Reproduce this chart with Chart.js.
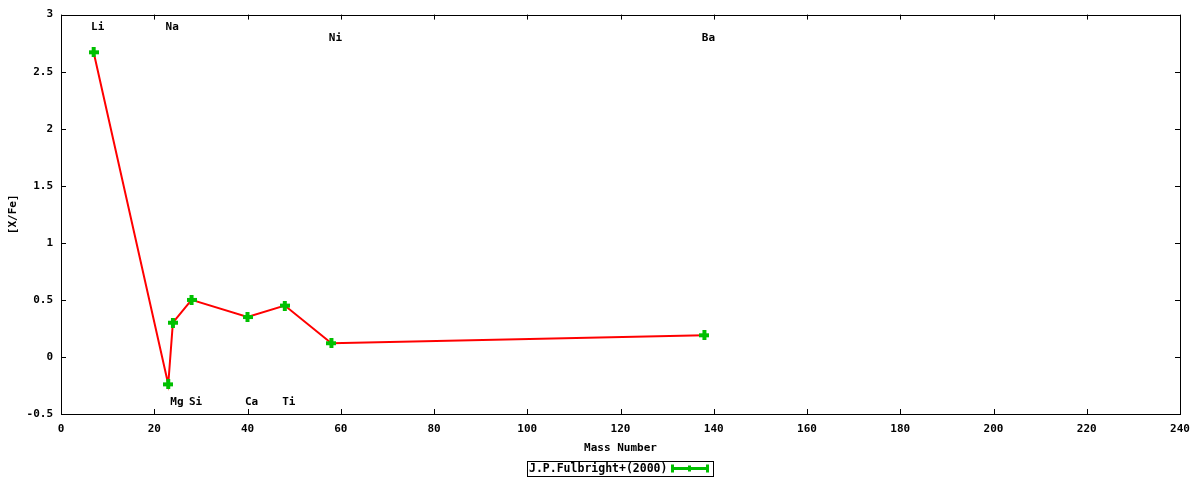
<!DOCTYPE html>
<html>
<head>
<meta charset="utf-8">
<script src="https://cdn.jsdelivr.net/npm/chart.js@4.4.0/dist/chart.umd.min.js"></script>
<style>
  html, body { margin: 0; padding: 0; background: #fff; }
  #wrap { width: 1200px; height: 480px; }
</style>
</head>
<body>
<div id="wrap"><canvas id="abundChart"></canvas></div>
<script>
// element labels and mass numbers
const elements = ['Li', 'Na', 'Mg', 'Si', 'Ca', 'Ti', 'Ni', 'Ba'];
const massNumber = [7, 23, 24, 28, 40, 48, 58, 138];
const xFe = [2.67, -0.24, 0.30, 0.50, 0.35, 0.45, 0.12, 0.19];
// where gnuplot put the element labels (in data units)
const labelY = [2.89, 2.89, -0.40, -0.40, -0.40, -0.40, 2.79, 2.79];
const xTicks = [0, 20, 40, 60, 80, 100, 120, 140, 160, 180, 200, 220, 240];
const yTicks = [-0.5, 0, 0.5, 1, 1.5, 2, 2.5, 3];
const seriesName = 'J.P.Fulbright+(2000)';

const FONT = '"DejaVu Sans Mono", monospace';
const GREEN = '#00c000';

// thick plus marker like gnuplot's
const marker = document.createElement('canvas');
marker.width = 10; marker.height = 10;
(function () {
  const c = marker.getContext('2d');
  c.fillStyle = GREEN;
  c.fillRect(3, 0, 4, 10);
  c.fillRect(0, 3, 10, 4);
})();

// frame with inward ticks on all four sides, element labels, legend box
const gnuplotBits = {
  id: 'gnuplotBits',
  afterDraw(chart) {
    const { ctx, chartArea: a, scales: { x, y } } = chart;
    ctx.save();
    ctx.strokeStyle = '#000';
    ctx.lineWidth = 1;
    ctx.beginPath();
    xTicks.forEach(v => {
      const px = Math.round(x.getPixelForValue(v)) + 0.5;
      ctx.moveTo(px, a.bottom); ctx.lineTo(px, a.bottom - 5);
      ctx.moveTo(px, a.top); ctx.lineTo(px, a.top + 5);
    });
    yTicks.forEach(v => {
      const py = Math.round(y.getPixelForValue(v)) + 0.5;
      ctx.moveTo(a.left, py); ctx.lineTo(a.left + 5, py);
      ctx.moveTo(a.right, py); ctx.lineTo(a.right - 5, py);
    });
    ctx.stroke();
    ctx.strokeRect(Math.round(a.left) + 0.5, Math.round(a.top) + 0.5,
      Math.round(a.right - a.left), Math.round(a.bottom - a.top));

    // element labels
    ctx.fillStyle = '#000';
    ctx.font = 'bold 11px ' + FONT;
    ctx.textAlign = 'center';
    ctx.textBaseline = 'middle';
    elements.forEach((el, i) => {
      ctx.fillText(el, x.getPixelForValue(massNumber[i]) + 4, y.getPixelForValue(labelY[i]));
    });

    // legend
    const bx = 527, by = 461, bw = 186, bh = 15;
    ctx.strokeRect(bx + 0.5, by + 0.5, bw, bh);
    ctx.textAlign = 'left';
    ctx.font = 'bold 11.5px ' + FONT;
    ctx.fillText(seriesName, bx + 2, by + 8);
    const sy = by + 7.5;
    ctx.strokeStyle = GREEN;
    ctx.lineWidth = 3;
    ctx.beginPath();
    ctx.moveTo(672, sy); ctx.lineTo(708, sy);
    ctx.stroke();
    ctx.fillStyle = GREEN;
    ctx.fillRect(671, sy - 4, 3, 8);
    ctx.fillRect(706, sy - 4, 3, 8);
    ctx.fillRect(688, sy - 3, 3, 6);
    ctx.restore();
  }
};

new Chart(document.getElementById('abundChart'), {
  type: 'line',
  data: {
    datasets: [{
      label: seriesName,
      data: massNumber.map((m, i) => ({ x: m, y: xFe[i] })),
      borderColor: '#ff0000',
      borderWidth: 2,
      tension: 0,
      fill: false,
      pointStyle: marker,
      pointRadius: 5,
      pointHoverRadius: 5
    }]
  },
  options: {
    responsive: true,
    maintainAspectRatio: false,
    animation: false,
    layout: { padding: { top: 14, right: 20, left: 0, bottom: 0 } },
    plugins: {
      legend: { display: false },
      tooltip: { enabled: false }
    },
    scales: {
      x: {
        type: 'linear',
        min: 0, max: 240,
        afterBuildTicks: (s) => { s.ticks = xTicks.map(v => ({ value: v })); },
        afterFit: (s) => { s.height = 66; },
        grid: { display: false, drawTicks: false },
        border: { display: false },
        ticks: { color: '#000', font: { family: FONT, size: 11, weight: 'bold' }, padding: 9, maxRotation: 0 },
        title: { display: true, text: 'Mass Number', color: '#000', font: { family: FONT, size: 11, weight: 'bold' }, padding: { top: 0, bottom: 25 } }
      },
      y: {
        type: 'linear',
        min: -0.5, max: 3,
        afterBuildTicks: (s) => { s.ticks = yTicks.map(v => ({ value: v })); },
        afterFit: (s) => { s.width = 61; },
        grid: { display: false, drawTicks: false },
        border: { display: false },
        ticks: {
          color: '#000', font: { family: FONT, size: 11, weight: 'bold' }, padding: 8,
          callback: (v) => String(v)
        },
        title: { display: true, text: '[X/Fe]', color: '#000', font: { family: FONT, size: 11, weight: 'bold' }, padding: { top: 6.5, bottom: 0 } }
      }
    }
  },
  plugins: [gnuplotBits]
});
</script>
</body>
</html>
